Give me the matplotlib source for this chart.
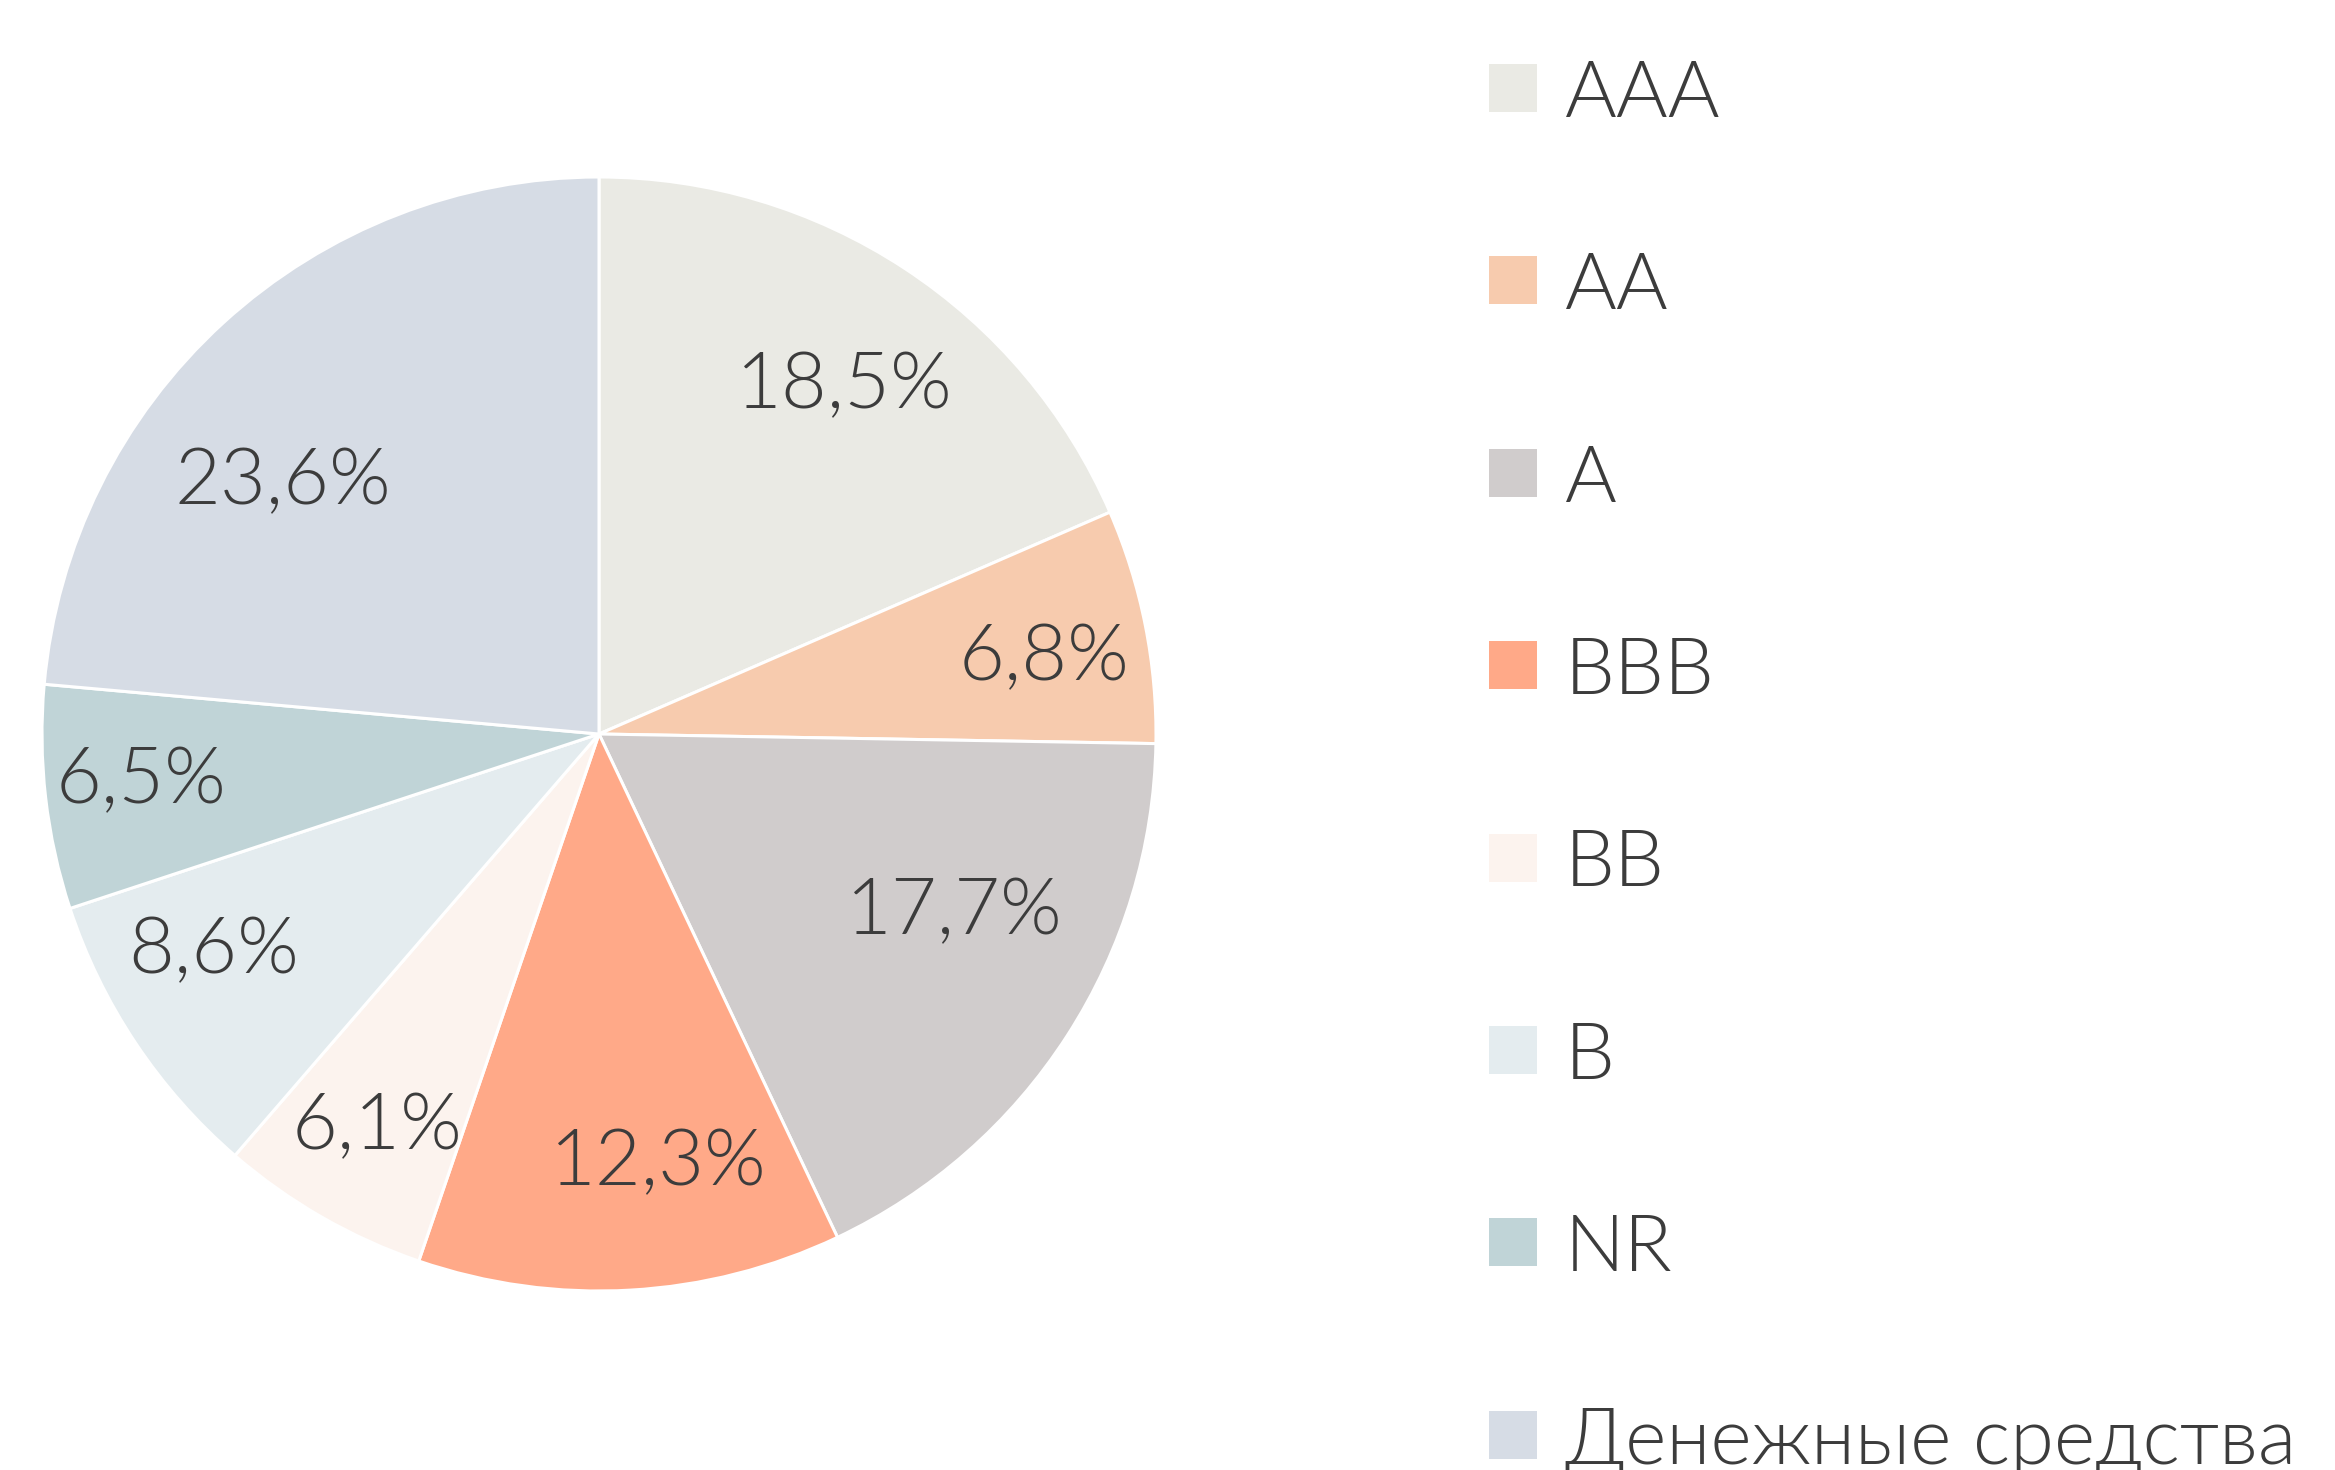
import matplotlib.pyplot as plt
from matplotlib.patches import Rectangle

plt.rcParams["font.family"] = ["Lato", "Open Sans", "DejaVu Sans"]

CATEGORIES = ["AAA", "AA", "A", "BBB", "BB", "B", "NR", "Денежные средства"]
SHARES = [18.5, 6.8, 17.7, 12.3, 6.1, 8.6, 6.5, 23.6]
PCT_LABELS = ["18,5%", "6,8%", "17,7%", "12,3%", "6,1%", "8,6%", "6,5%", "23,6%"]
COLORS = ["#EAEAE4", "#F7CBAE", "#D0CCCC", "#FFA988",
          "#FCF3EE", "#E4ECEF", "#C0D4D7", "#D6DCE5"]

# label anchor positions, relative to pie centre in units of radius
LABEL_POS = [(0.440, 0.636), (0.799, 0.149), (0.638, -0.307), (0.106, -0.759),
             (-0.399, -0.693), (-0.691, -0.377), (-0.822, -0.072), (-0.567, 0.465)]

W, H = 2335, 1470
TEXT_COLOR = "#3C3C3C"


def main() -> None:
    fig = plt.figure(figsize=(W / 100, H / 100), dpi=100)
    ax = fig.add_axes([0, 0, 1, 1])
    cx, cy, r = 599, H - 734, 557
    ax.pie(
        SHARES,
        colors=COLORS,
        startangle=90,
        counterclock=False,
        center=(cx, cy),
        radius=r,
        wedgeprops=dict(edgecolor="white", linewidth=2.2),
    )
    for (dx, dy), lab in zip(LABEL_POS, PCT_LABELS):
        ax.text(cx + dx * r, cy + dy * r, lab, ha="center", va="center_baseline",
                fontsize=57, fontweight=300, color=TEXT_COLOR)

    # legend, drawn by hand to match row spacing
    for i, (cat, col) in enumerate(zip(CATEGORIES, COLORS)):
        yc = H - (88 + 192.4 * i)
        ax.add_patch(Rectangle((1489, yc - 24), 48, 48, facecolor=col, edgecolor="none"))
        ax.text(1565, yc, cat, ha="left", va="center_baseline", fontsize=57,
                fontweight=300, color=TEXT_COLOR)

    ax.set_xlim(0, W)
    ax.set_ylim(0, H)
    ax.set_aspect("equal")
    ax.axis("off")
    fig.savefig("out.png", dpi=100, facecolor="white")
    plt.close(fig)


if __name__ == "__main__":
    main()
